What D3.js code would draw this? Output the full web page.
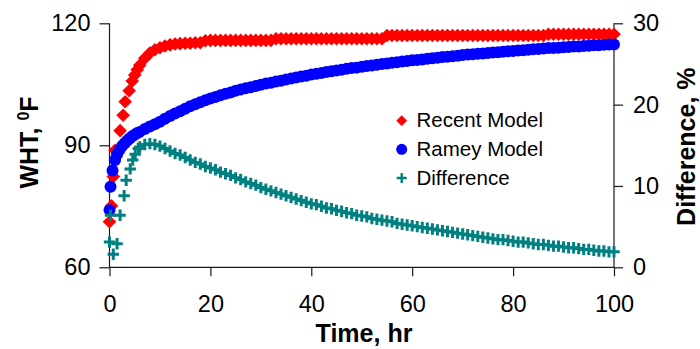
<!DOCTYPE html>
<html><head><meta charset="utf-8">
<script src="https://cdn.jsdelivr.net/npm/d3@7"></script>
<style>html,body{margin:0;padding:0;background:#fff;}</style>
</head><body>
<svg id="chart" width="700" height="349"></svg>
<script>
// ---- data ----
const xTicks = [0, 20, 40, 60, 80, 100];
const yLeftTicks = [60, 90, 120];
const yRightTicks = [0, 10, 20, 30];
const seriesNames = ["Recent Model", "Ramey Model", "Difference"];

// shared hourly time base (hr)
const hours = [6,7,8,9,10,11,12,13,14,15,16,17,18,19,20,21,22,23,24,25,26,27,28,29,30,
  31,32,33,34,35,36,37,38,39,40,41,42,43,44,45,46,47,48,49,50,51,52,53,54,55,56,57,58,59,60,
  61,62,63,64,65,66,67,68,69,70,71,72,73,74,75,76,77,78,79,80,81,82,83,84,85,86,87,88,89,90,
  91,92,93,94,95,96,97,98,99,100];

// Recent model WHT (F)
const recentEarlyTime = [0,0.4,0.75,1.1,2.1,2.7,3.1,3.9,4.5,5,5.5];
const recentEarly = [71.2,75.1,82.3,88.8,93.6,97.4,100.7,103.4,105.8,107.3,108.6];
const recentHourly = [109.7,111.4,112.7,113.5,114.0,114.4,114.7,114.9,115.0,115.1,115.1,115.2,115.2,115.7,
  115.8,115.8,115.8,115.8,115.8,115.8,115.8,115.8,115.8,115.8,115.8,115.8,115.8,
  116.2,116.2,116.2,116.2,116.2,116.2,116.2,116.2,116.2,116.2,116.2,116.2,116.2,116.2,116.2,116.2,116.2,116.2,116.2,116.2,116.2,116.2,
  117.0,117.0,117.0,117.0,117.0,117.0,117.0,117.0,117.0,117.0,117.0,117.0,117.0,117.0,117.0,117.0,
  117.0,117.0,117.0,117.0,117.0,117.0,117.0,117.0,117.0,117.0,117.0,117.0,117.0,117.0,117.0,117.0,
  117.3,117.3,117.3,117.3,117.3,117.3,117.3,117.3,117.3,117.3,117.3,117.3,117.3,117.3];

// Ramey model WHT (F)
const rameyEarlyTime = [0,0.2,0.6,1.1,1.5,2,2.5,3,3.5,4,4.5,5,5.5];
const rameyEarly = [74.1,79.8,83.8,86.4,87.8,88.9,89.8,90.5,91.1,91.7,92.2,92.6,93.0];
const rameyHourly = [93.3,94.0,94.6,95.2,95.8,96.5,97.2,97.8,98.4,99.0,99.6,100.1,100.6,101.1,101.5,
  101.9,102.3,102.7,103.0,103.4,103.7,104.0,104.3,104.6,104.9,105.2,105.4,105.7,105.9,106.2,
  106.4,106.7,106.9,107.1,107.4,107.6,107.8,108.0,108.2,108.4,108.6,108.8,109.0,109.1,109.3,
  109.5,109.6,109.8,110.0,110.1,110.3,110.4,110.6,110.7,110.9,111.0,111.1,111.3,111.4,111.5,
  111.7,111.8,111.9,112.0,112.2,112.3,112.4,112.5,112.6,112.7,112.8,112.9,113.0,113.1,113.2,
  113.3,113.4,113.5,113.6,113.7,113.8,113.9,113.9,114.0,114.1,114.2,114.3,114.3,114.4,114.5,
  114.6,114.6,114.7,114.8,114.8];

// Difference (%)
const diffEarlyTime = [0,0.2,0.75,1.5,2.1,2.9,3.3,4.1,4.6,5.1,5.7];
const diffEarly = [3.1,6.4,1.6,2.9,6.4,8.8,10.7,12.1,13.2,13.9,14.6];
const diffHourly = [14.8,15.1,15.2,15.1,14.9,14.6,14.3,14.0,13.8,13.5,13.2,12.9,12.7,12.4,12.2,
  12.0,11.7,11.5,11.3,11.0,10.8,10.5,10.3,10.1,9.8,9.6,9.4,9.2,9.0,8.8,8.6,8.4,8.2,8.0,7.8,
  7.7,7.5,7.3,7.2,7.0,6.9,6.7,6.6,6.4,6.3,6.2,6.0,5.9,5.8,5.7,5.6,5.4,5.3,5.2,5.1,
  5.0,4.9,4.8,4.7,4.6,4.5,4.4,4.3,4.2,4.1,4.0,3.9,3.8,3.7,3.6,3.5,3.4,3.4,3.3,3.2,
  3.1,3.1,3.0,2.9,2.8,2.8,2.7,2.6,2.6,2.5,2.4,2.4,2.3,2.2,2.2,2.1,2.0,2.0,1.9,1.9];

// ---- drawing ----
const FONT = "'Liberation Sans', Arial, sans-serif";
const svg = d3.select("#chart");
const x = d3.scaleLinear().domain([0, 100]).range([109.5, 614]);
const yL = d3.scaleLinear().domain([60, 120]).range([267.3, 23.3]);
const yR = d3.scaleLinear().domain([0, 30]).range([267.3, 23.3]);

function pairs(t1, v1, t2, v2) {
  return t1.map((t, i) => [t, v1[i]]).concat(t2.map((t, i) => [t, v2[i]]));
}
const recent = pairs(recentEarlyTime, recentEarly, hours, recentHourly);
const ramey = pairs(rameyEarlyTime, rameyEarly, hours, rameyHourly);
const diff = pairs(diffEarlyTime, diffEarly, hours, diffHourly);

const axisColor = "#1a1a1a";
// axes
const gx = svg.append("g").attr("transform", `translate(0,${yL(60)})`)
  .call(d3.axisBottom(x).tickValues(xTicks).tickSize(9).tickPadding(19).tickFormat(d3.format("d")));
const gl = svg.append("g").attr("transform", `translate(${x(0)},0)`)
  .call(d3.axisLeft(yL).tickValues(yLeftTicks).tickSize(10).tickPadding(9).tickFormat(d3.format("d")));
const gr = svg.append("g").attr("transform", `translate(${x(100)},0)`)
  .call(d3.axisRight(yR).tickValues(yRightTicks).tickSize(9).tickPadding(10).tickFormat(d3.format("d")));
[gx, gl, gr].forEach(g => {
  g.select(".domain").attr("stroke", axisColor).attr("stroke-width", 1.2);
  g.selectAll(".tick line").attr("stroke", axisColor).attr("stroke-width", 1.2);
  g.selectAll(".tick text").attr("fill", "#000").style("font-family", FONT).style("font-size", "23.5px");
});
gx.selectAll(".domain").attr("d", `M${x(0)},0H${x(100)}`);
gl.selectAll(".domain").attr("d", `M0,${yL(60)}V${yL(120)}`);
gr.selectAll(".domain").attr("d", `M0,${yR(0)}V${yR(30)}`);

// series
const diamond = s => `M0,${-s}L${s},0L0,${s}L${-s},0Z`;
const cross = s => `M${-s},0H${s}M0,${-s}V${s}`;

svg.append("g").selectAll("path").data(recent).join("path")
  .attr("transform", d => `translate(${x(d[0])},${yL(d[1])})`)
  .attr("d", diamond(6.8)).attr("fill", "#ff0000");
svg.append("g").selectAll("circle").data(ramey).join("circle")
  .attr("cx", d => x(d[0])).attr("cy", d => yL(d[1])).attr("r", 6).attr("fill", "#0000ff");
svg.append("g").selectAll("path").data(diff).join("path")
  .attr("transform", d => `translate(${x(d[0])},${yR(d[1])})`)
  .attr("d", cross(5.7)).attr("stroke", "#008080").attr("stroke-width", 3).attr("fill", "none");

// legend
const legend = svg.append("g");
const legY = [120.7, 149.3, 178];
seriesNames.forEach((name, i) => {
  const cx = 401.7, cy = legY[i];
  if (i === 0) legend.append("path").attr("transform", `translate(${cx},${cy})`).attr("d", diamond(5.4)).attr("fill", "#ff0000");
  if (i === 1) legend.append("circle").attr("cx", cx).attr("cy", cy).attr("r", 5.5).attr("fill", "#0000ff");
  if (i === 2) legend.append("path").attr("transform", `translate(${cx},${cy})`).attr("d", cross(5)).attr("stroke", "#008080").attr("stroke-width", 2.4).attr("fill", "none");
  legend.append("text").attr("x", 416.5).attr("y", cy + 6.5).text(name)
    .style("font-family", FONT).style("font-size", "20.5px").attr("fill", "#000");
});

// axis titles
svg.append("text").attr("x", 364).attr("y", 342).attr("text-anchor", "middle")
  .style("font-family", FONT).style("font-size", "25px").style("font-weight", "bold").text("Time, hr");
const lt = svg.append("text").attr("transform", "translate(38,142.5) rotate(-90)").attr("text-anchor", "middle")
  .style("font-family", FONT).style("font-size", "25px").style("font-weight", "bold");
lt.append("tspan").text("WHT, ");
lt.append("tspan").attr("dy", -9).style("font-size", "16px").text("0");
lt.append("tspan").attr("dy", 9).text("F");
svg.append("text").attr("transform", "translate(695,146.7) rotate(-90)").attr("text-anchor", "middle")
  .style("font-family", FONT).style("font-size", "25px").style("font-weight", "bold").text("Difference, %");
</script>
</body></html>
